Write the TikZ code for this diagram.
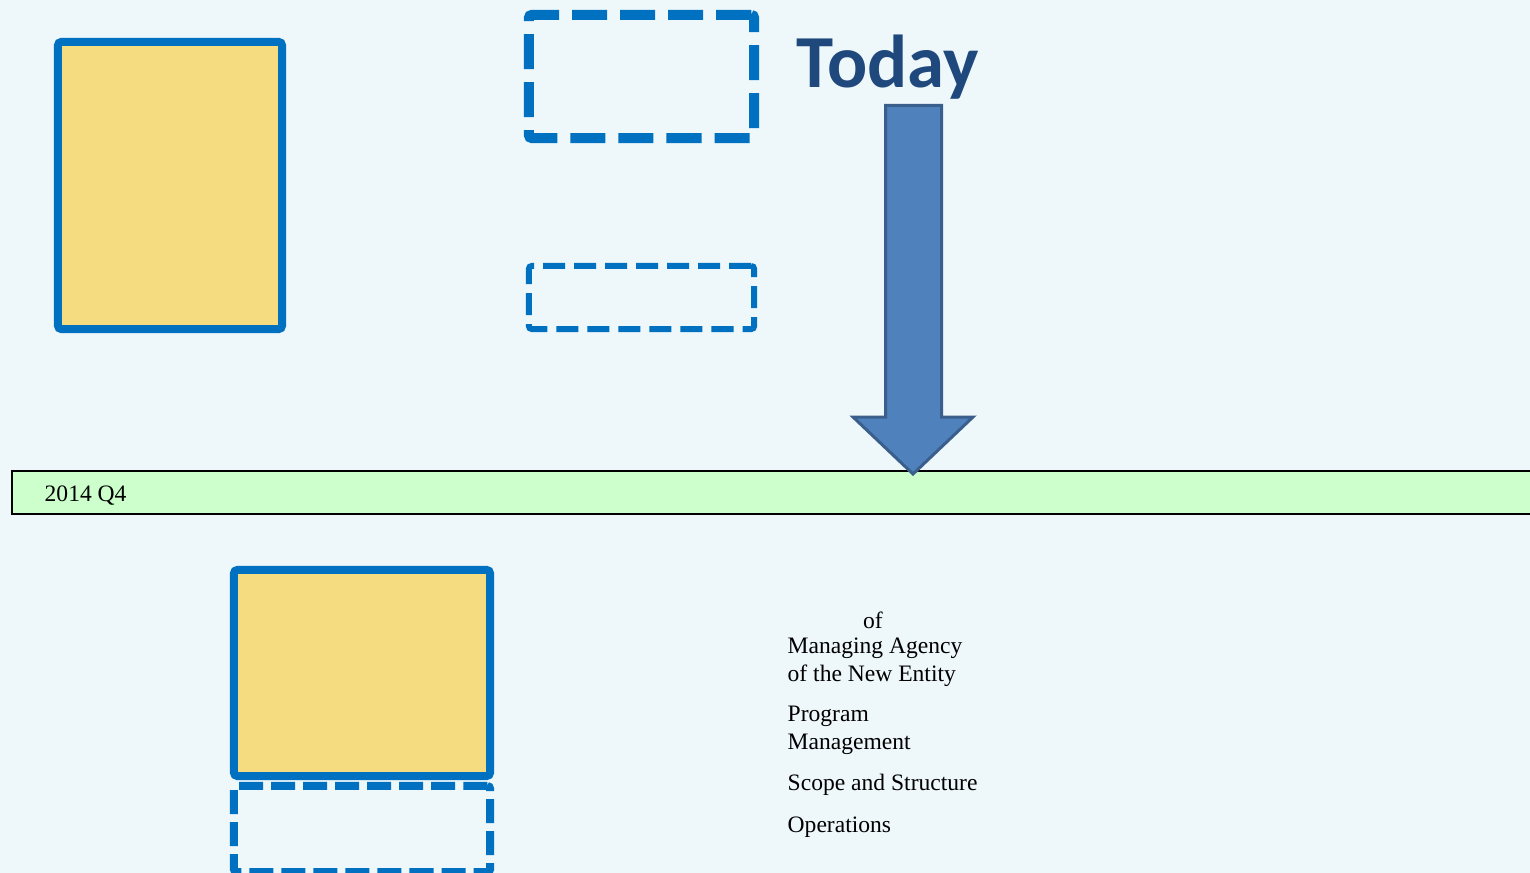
\documentclass[tikz,border=0pt]{standalone}
\usepackage{fontspec}
\setmainfont{Liberation Serif}
\newfontfamily\todayfont{Carlito}
\usepackage{xcolor}
\usetikzlibrary{positioning}

\definecolor{bgpaper}{HTML}{EEF7FA}
\definecolor{boxblue}{HTML}{0070C0}
\definecolor{boxyellow}{HTML}{F5DC80}
\definecolor{barfill}{HTML}{CCFFCC}
\definecolor{arrowfill}{HTML}{4F81BD}
\definecolor{arrowline}{HTML}{3A5F8C}
\definecolor{todayblue}{HTML}{1F497D}

\tikzset{
  solidbox/.style={draw=boxblue, line width=0.08cm, fill=boxyellow, rounded corners=1pt, inner sep=0pt},
  dashbox/.style={draw=boxblue, line width=#1, rounded corners=0.8pt, inner sep=0pt},
  lbl/.style={font=\fontsize{6.7}{7.9}\selectfont, align=left, inner sep=0pt, anchor=base west}
}

\begin{document}
\begin{tikzpicture}[x=0.01cm, y=-0.01cm]
        \useasboundingbox (0,0) rectangle (1530,873);
        \clip (0,0) rectangle (1530,873);
        \fill[bgpaper] (0,0) rectangle (1530,873);

        % upper boxes
        \node[solidbox, minimum width=2.24cm, minimum height=2.87cm] (upperbox) at (170,185.5) {};
        \node[dashbox=0.1cm, dash pattern=on 0.35cm off 0.13cm, minimum width=2.25cm, minimum height=1.23cm] (upperdash) at (641.5,76.5) {};
        \node[dashbox=0.06cm, dash pattern=on 0.22cm off 0.09cm, minimum width=2.25cm, minimum height=0.63cm] (upperslot) at (641.5,297.5) {};

        % timeline
        \draw[line width=0.015cm, fill=barfill] (12,471) rectangle (1560,514);
        \node[lbl] (quarter) at (44,501.5) {2014 Q4};

        % today marker
        \node[font=\todayfont\bfseries\fontsize{21.3}{25}\selectfont, text=todayblue, inner sep=0pt, anchor=base west] (today) at (796,88) {Today};
        \coordinate (tip) at (913,474);
        \draw[line width=0.03cm, draw=arrowline, fill=arrowfill, line join=miter]
          (885.5,105.5) -- (941.5,105.5) -- (941.5,417) -- (973,417) -- (tip)
          -- (853,417) -- (885.5,417) -- cycle;

        % lower boxes
        \node[solidbox, minimum width=2.56cm, minimum height=2.06cm] (lowerbox) at (362,673) {};
        \node[dashbox=0.08cm, dash pattern=on 0.24cm off 0.08cm, minimum width=2.56cm, minimum height=0.86cm] (lowerdash) at (362,829) {};

        % labels (base = last line)
        \node[lbl, anchor=base] (lblof) at (873,628) {of};
        \node[lbl] (lblagency) at (787,681) {Managing Agency\\of the New Entity};
        \node[lbl] (lblprogram) at (787,749) {Program\\Management};
        \node[lbl] (lblscope) at (787,790) {Scope and Structure};
        \node[lbl] (lblops) at (787,832) {Operations};
    \end{tikzpicture}
\end{document}
